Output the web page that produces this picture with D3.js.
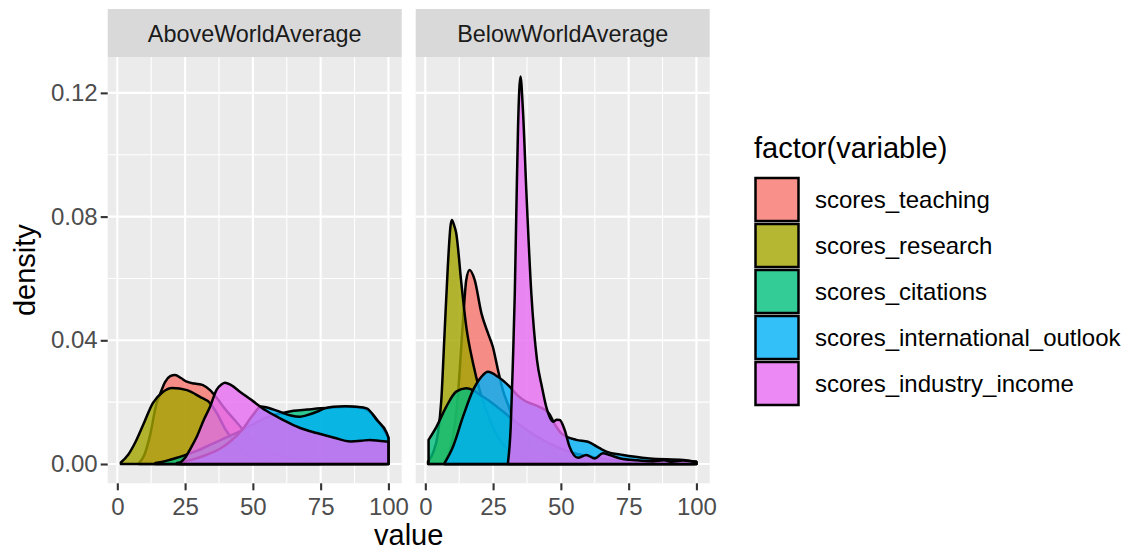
<!DOCTYPE html>
<html>
<head>
<meta charset="utf-8">
<script src="https://cdn.jsdelivr.net/npm/d3@7"></script>
<style>
  body { margin: 0; background: #fff; }
  text { font-family: "Liberation Sans", Arial, sans-serif; }
</style>
</head>
<body>
<script>
let w = 1123;
let h = 550;

let panels = ["AboveWorldAverage", "BelowWorldAverage"];
let variables = ["scores_teaching", "scores_research", "scores_citations", "scores_international_outlook", "scores_industry_income"];
let colors = ["#F8766D", "#A3A500", "#00BF7D", "#00B0F6", "#E76BF3"];

let xTicks = [0, 25, 50, 75, 100];
let xMinor = [12.5, 37.5, 62.5, 87.5];
let yTicks = [0, 0.04, 0.08, 0.12];
let yMinor = [0.02, 0.06, 0.10];

// density estimates: [value, density]
let aboveTeaching = [[8,0.0003],[10,0.003],[12,0.009],[14.5,0.0197],[15.8,0.0227],[17.6,0.0265],[19.5,0.0284],[21.3,0.0288],[23.5,0.0278],[25.6,0.0266],[28.5,0.026],[31.6,0.0255],[34.2,0.0239],[37,0.021],[40,0.0175],[44,0.0135],[48,0.0095],[52,0.0065],[56,0.0042],[60,0.0027],[66,0.0014],[72,0.0007],[80,0.0003],[90,0.0001],[99,0.00005]];
let aboveResearch = [[1.3,0.0005],[4,0.003],[6.5,0.0068],[9.5,0.0126],[13.1,0.0197],[16.8,0.0233],[20.2,0.0246],[25.7,0.0239],[30.5,0.0217],[34.2,0.0197],[37,0.016],[40,0.011],[44,0.0062],[48,0.003],[52,0.0014],[58,0.0005],[65,0.0002],[75,0.00005]];
let aboveCitations = [[14,0.0003],[18,0.001],[22,0.002],[26,0.0032],[30,0.0045],[35,0.0065],[40,0.0085],[45,0.0105],[50,0.0128],[55,0.015],[60,0.0163],[65,0.0172],[70,0.0176],[75,0.018],[80,0.0183],[85,0.0185],[90,0.0182],[94,0.0162],[97,0.0128],[100,0.0085]];
let aboveIntl = [[22,0.0003],[28,0.0015],[33,0.003],[38,0.005],[42,0.0075],[46,0.011],[50,0.0158],[53,0.0186],[57,0.0178],[61.1,0.0165],[64,0.0157],[67.4,0.0153],[70,0.0158],[73.6,0.0169],[76.5,0.018],[79.6,0.0185],[84,0.0187],[88.3,0.0185],[92,0.018],[95.7,0.0142],[99.4,0.01],[100,0.0085]];
let aboveIndustry = [[23.3,0.0005],[25,0.002],[27,0.005],[29.3,0.0088],[32,0.0145],[34.2,0.0185],[36.6,0.024],[38.5,0.0258],[39.7,0.0263],[42,0.0255],[45.2,0.0234],[49,0.021],[55,0.0172],[61.3,0.0142],[67,0.0118],[73.6,0.01],[80,0.0085],[85.9,0.0073],[90,0.0075],[93.2,0.0078],[97,0.0074],[100,0.0072]];

let belowTeaching = [[7,0.001],[10,0.008],[12,0.022],[13.8,0.045],[15.1,0.0595],[16.3,0.0627],[18.2,0.0595],[20.7,0.0487],[23.1,0.0423],[24.9,0.0379],[26.8,0.0304],[28.6,0.0239],[31,0.018],[33,0.012],[37,0.007],[42,0.0035],[50,0.0013],[60,0.0005],[75,0.0002],[90,0.0001],[99,0.00005]];
let belowResearch = [[1,0.0008],[3,0.004],[4.65,0.0099],[5.9,0.0207],[7.1,0.0423],[8.3,0.0639],[9.3,0.077],[9.8,0.0789],[10.5,0.0775],[11.4,0.0746],[13.3,0.0584],[15.1,0.0444],[17.6,0.0326],[20,0.024],[23,0.016],[26,0.01],[30,0.005],[35,0.002],[40,0.0008],[50,0.0002],[60,0.00005]];
let belowCitations = [[1.2,0.0078],[4.1,0.012],[7.7,0.0185],[11.4,0.0234],[15.1,0.0245],[17.6,0.0239],[20,0.0225],[25,0.0195],[30,0.016],[35,0.0125],[40,0.0095],[45,0.007],[50,0.005],[55,0.0035],[60,0.0025],[70,0.0012],[80,0.0006],[90,0.0003],[100,0.0002]];
let belowIntl = [[7.1,0.0003],[10.2,0.0056],[13.9,0.0153],[17.6,0.0239],[20.7,0.0282],[23.1,0.0298],[26.8,0.0282],[31.1,0.025],[34,0.0222],[37,0.0203],[40,0.0192],[42,0.0185],[45.5,0.0165],[48,0.0125],[50.2,0.0099],[55.7,0.0078],[60,0.0072],[64.3,0.0051],[66.8,0.004],[72.9,0.0029],[82.8,0.0018],[95.1,0.0013],[100,0.0007]];
let belowIndustry = [[30.5,0.0005],[31.5,0.012],[32.3,0.033],[33,0.055],[33.6,0.083],[34.2,0.109],[35.1,0.1253],[36,0.1145],[37.3,0.0875],[39.1,0.0552],[41.2,0.0336],[43,0.025],[44.6,0.0185],[47.1,0.0137],[48.5,0.0143],[49.6,0.0142],[51.4,0.011],[53.2,0.0056],[56.3,0.002],[59.4,0.0029],[62.5,0.0018],[65.5,0.0035],[68,0.0029],[72,0.0018],[78,0.0012],[84,0.0009],[88,0.0012],[91,0.0008],[95,0.0011],[98,0.0009],[100,0.0007]];

let panelData = [
  [aboveTeaching, aboveResearch, aboveCitations, aboveIntl, aboveIndustry],
  [belowTeaching, belowResearch, belowCitations, belowIntl, belowIndustry]
];

let panelLeft = [107.7, 415.7];
let panelW = 294;
let panelTop = 57;
let panelBottom = 483.3;
let stripTop = 9;

let y = d3.scaleLinear().domain([-0.00624, 0.1316]).range([panelBottom, panelTop]);

let svg = d3.select("body").append("svg").attr("width", w).attr("height", h);

panels.forEach((name, i) => {
  let x = d3.scaleLinear().domain([-3.55, 104.9]).range([panelLeft[i], panelLeft[i] + panelW]);
  let g = svg.append("g").attr("class", "panel");

  g.append("rect")
    .attr("x", panelLeft[i]).attr("y", panelTop)
    .attr("width", panelW).attr("height", panelBottom - panelTop)
    .attr("fill", "#EBEBEB");

  // minor grid
  g.selectAll("line.xminor").data(xMinor).enter().append("line")
    .attr("x1", d => x(d)).attr("x2", d => x(d))
    .attr("y1", panelTop).attr("y2", panelBottom)
    .attr("stroke", "#fff").attr("stroke-width", 1.1);
  g.selectAll("line.yminor").data(yMinor).enter().append("line")
    .attr("y1", d => y(d)).attr("y2", d => y(d))
    .attr("x1", panelLeft[i]).attr("x2", panelLeft[i] + panelW)
    .attr("stroke", "#fff").attr("stroke-width", 1.1);
  // major grid
  g.selectAll("line.xmajor").data(xTicks).enter().append("line")
    .attr("x1", d => x(d)).attr("x2", d => x(d))
    .attr("y1", panelTop).attr("y2", panelBottom)
    .attr("stroke", "#fff").attr("stroke-width", 2.1);
  g.selectAll("line.ymajor").data(yTicks).enter().append("line")
    .attr("y1", d => y(d)).attr("y2", d => y(d))
    .attr("x1", panelLeft[i]).attr("x2", panelLeft[i] + panelW)
    .attr("stroke", "#fff").attr("stroke-width", 2.1);

  let area = d3.area()
    .x(d => x(d[0]))
    .y0(y(0))
    .y1(d => y(d[1]))
    .curve(d3.curveMonotoneX);

  g.selectAll("path.dens")
    .data(panelData[i])
    .enter()
    .append("path")
    .attr("d", area)
    .attr("fill", (d, k) => colors[k])
    .attr("fill-opacity", 0.8)
    .attr("stroke", "#000")
    .attr("stroke-width", 2.5)
    .attr("stroke-linejoin", "round");

  // strip
  g.append("rect")
    .attr("x", panelLeft[i]).attr("y", stripTop)
    .attr("width", panelW).attr("height", panelTop - stripTop)
    .attr("fill", "#D9D9D9");
  g.append("text")
    .attr("x", panelLeft[i] + panelW / 2).attr("y", 41.7)
    .attr("text-anchor", "middle")
    .attr("font-size", 23.4)
    .attr("fill", "#1A1A1A")
    .text(name);

  // x axis
  let xAxis = svg.append("g")
    .attr("transform", `translate(0,${panelBottom})`)
    .call(d3.axisBottom(x).tickValues(xTicks).tickSize(7).tickPadding(8));
  xAxis.select(".domain").remove();
  xAxis.selectAll(".tick line").attr("stroke", "#333").attr("stroke-width", 2.1);
  xAxis.selectAll(".tick text")
    .attr("fill", "#4D4D4D")
    .attr("font-size", 24)
    .attr("font-family", "Liberation Sans, Arial, sans-serif");
});

// y axis
let yAxis = svg.append("g")
  .attr("transform", `translate(${panelLeft[0]},0)`)
  .call(d3.axisLeft(y).tickValues(yTicks).tickFormat(d3.format(".2f")).tickSize(7).tickPadding(3));
yAxis.select(".domain").remove();
yAxis.selectAll(".tick line").attr("stroke", "#333").attr("stroke-width", 2.1);
yAxis.selectAll(".tick text")
  .attr("fill", "#4D4D4D")
  .attr("font-size", 24)
  .attr("font-family", "Liberation Sans, Arial, sans-serif");

// axis titles
svg.append("text")
  .attr("x", (panelLeft[0] + panelLeft[1] + panelW) / 2)
  .attr("y", 545)
  .attr("text-anchor", "middle")
  .attr("font-size", 29)
  .text("value");
svg.append("text")
  .attr("transform", `translate(35,${(panelTop + panelBottom) / 2}) rotate(-90)`)
  .attr("text-anchor", "middle")
  .attr("font-size", 29)
  .text("density");

// legend
let legend = svg.append("g").attr("transform", "translate(754,0)");
legend.append("text")
  .attr("x", 0).attr("y", 158)
  .attr("font-size", 29)
  .text("factor(variable)");

let keys = legend.selectAll("g.key").data(variables).enter().append("g")
  .attr("transform", (d, k) => `translate(0,${177 + k * 46})`);
keys.append("rect")
  .attr("x", 1.5).attr("y", 1)
  .attr("width", 43).attr("height", 43)
  .attr("fill", (d, k) => colors[k])
  .attr("fill-opacity", 0.8)
  .attr("stroke", "#000")
  .attr("stroke-width", 2.5);
keys.append("text")
  .attr("x", 61).attr("y", 22.5)
  .attr("dy", "0.35em")
  .attr("font-size", 24)
  .attr("fill", "#000")
  .text(d => d);
</script>
</body>
</html>
